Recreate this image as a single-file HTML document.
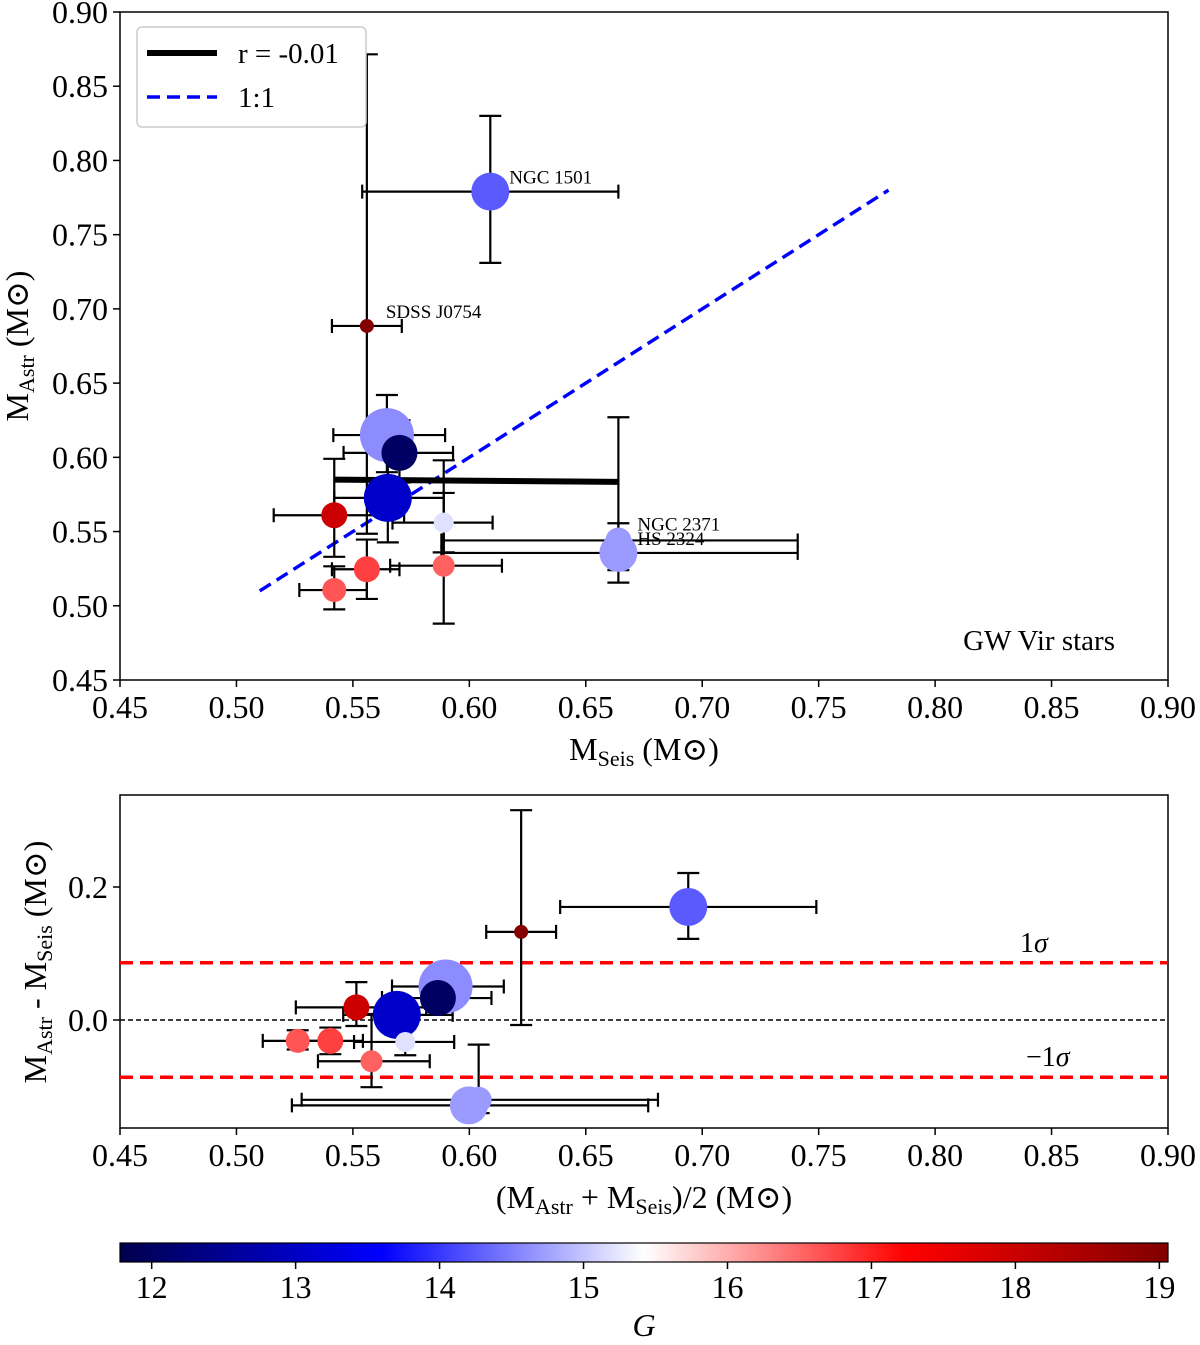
<!DOCTYPE html>
<html><head><meta charset="utf-8"><style>
body{margin:0;background:#fff}
svg text{font-family:"Liberation Serif","DejaVu Serif",serif;fill:#000}
</style></head><body>
<svg id="fig" width="1200" height="1340" xmlns="http://www.w3.org/2000/svg">
<defs><linearGradient id="cmap" x1="0" x2="1" y1="0" y2="0">
<stop offset="0" stop-color="#00004d"/><stop offset="0.25" stop-color="#0000ff"/><stop offset="0.5" stop-color="#ffffff"/><stop offset="0.75" stop-color="#ff0000"/><stop offset="1" stop-color="#800000"/></linearGradient></defs>
<g id="topPanel"></g>
<g id="botPanel"></g>
<g id="cbarPanel"></g>
</svg>
<script>
const starNames = ["NGC 1501","SDSS J0754","star-3","star-4","star-5","star-6","star-7","NGC 2371","HS 2324","star-10","star-11","star-12"];
const mSeis = [0.609,0.556,0.5646,0.570,0.565,0.542,0.589,0.664,0.664,0.556,0.589,0.542];
const mAstr = [0.779,0.6885,0.615,0.603,0.5727,0.561,0.556,0.544,0.5356,0.5246,0.527,0.5106];
const xErrLo = [0.055,0.015,0.023,0.024,0.023,0.026,0.022,0.076,0.076,0.015,0.023,0.015];
const xErrHi = [0.055,0.015,0.025,0.023,0.024,0.030,0.021,0.077,0.077,0.014,0.025,0.014];
const yErrLo = [0.048,0.14,0.025,0.02,0.03,0.028,0.02,0.02,0.02,0.02,0.039,0.013];
const yErrHi = [0.051,0.183,0.027,0.022,0.03,0.038,0.02,0.083,0.02,0.02,0.071,0.016];
const gMag = [14.24,19.0,14.6,12.0,13.07,17.97,15.2,14.7,14.7,16.78,16.55,16.63];
const sizes = [19,7,27,18,24,13,10,13,19,13,11,12];
const starLabels = {0:"NGC 1501",1:"SDSS J0754",7:"NGC 2371",8:"HS 2324"};
const fitX = [0.542,0.664];
const fitY = [0.585,0.5835];
const oneToOne = [0.51,0.78];
const sigma = 0.086;
const xTicks = [0.45,0.50,0.55,0.60,0.65,0.70,0.75,0.80,0.85,0.90];
const yTicksTop = [0.45,0.50,0.55,0.60,0.65,0.70,0.75,0.80,0.85,0.90];
const yTicksBot = [0.0,0.2];
const cTicks = [12,13,14,15,16,17,18,19];
const gMin = 11.78, gMax = 19.06;

const NS="http://www.w3.org/2000/svg";
function mk(parent,tag,attrs,text){const e=document.createElementNS(NS,tag);for(const k in attrs)e.setAttribute(k,attrs[k]);if(text!==undefined)e.textContent=text;parent.appendChild(e);return e;}
function cmap(g){let t=(g-gMin)/(gMax-gMin);t=Math.max(0,Math.min(1,t));
 const st=[[0,0,0,77],[0.25,0,0,255],[0.5,255,255,255],[0.75,255,0,0],[1,128,0,0]];
 for(let i=0;i<4;i++){if(t<=st[i+1][0]){const f=(t-st[i][0])/(st[i+1][0]-st[i][0]);
 return `rgb(${[1,2,3].map(j=>Math.round(st[i][j]+f*(st[i+1][j]-st[i][j]))).join(',')})`;}}return "#800000";}
const L=120,R=1168;
const xs=v=>L+(v-0.45)/0.45*(R-L);
const ysT=v=>680-(v-0.45)/0.45*668;
const ysB=v=>1020-v*665;
const topG=document.getElementById('topPanel'),botG=document.getElementById('botPanel'),cbG=document.getElementById('cbarPanel');

function errbar(g,x,y,x1,x2,y1,y2){
 const a={stroke:'#000','stroke-width':2.2,fill:'none'};
 let e=mk(g,'path',Object.assign({d:`M${x1} ${y}H${x2}M${x1} ${y-7}V${y+7}M${x2} ${y-7}V${y+7}M${x} ${y1}V${y2}M${x-11} ${y1}H${x+11}M${x-11} ${y2}H${x+11}`},a));
 
 
}
function axes(g,y0,y1,yt,ysf,ylabFmt){
 let fr=mk(g,'rect',{x:L,y:y0,width:R-L,height:y1-y0,fill:'none',stroke:'#000','stroke-width':1.5});
 
 
 xTicks.forEach(v=>{const x=xs(v);mk(g,'line',{x1:x,x2:x,y1:y1,y2:y1+7,stroke:'#000','stroke-width':1.5});
  let t=mk(g,'text',{x:x,y:y1+38,'font-size':32,'text-anchor':'middle'},v.toFixed(2));
  
  });
 yt.forEach(v=>{const y=ysf(v);mk(g,'line',{x1:L-7,x2:L,y1:y,y2:y,stroke:'#000','stroke-width':1.5});
  let t=mk(g,'text',{x:L-12,y:y+11,'font-size':32,'text-anchor':'end'},ylabFmt(v));
  
  });
}
// TOP
axes(topG,12,680,yTicksTop,ysT,v=>v.toFixed(2));
let oo=mk(topG,'line',{x1:xs(oneToOne[0]),y1:ysT(oneToOne[0]),x2:xs(oneToOne[1]),y2:ysT(oneToOne[1]),stroke:'#0000ff','stroke-width':3.5,'stroke-dasharray':'13 7'});


for(let i=0;i<starNames.length;i++){
 const x=xs(mSeis[i]),y=ysT(mAstr[i]);
 errbar(topG,x,y,xs(mSeis[i]-xErrLo[i]),xs(mSeis[i]+xErrHi[i]),ysT(mAstr[i]+yErrHi[i]),ysT(mAstr[i]-yErrLo[i]));
}
let fl=mk(topG,'line',{x1:xs(fitX[0]),y1:ysT(fitY[0]),x2:xs(fitX[1]),y2:ysT(fitY[1]),stroke:'#000','stroke-width':6});


for(let i=0;i<starNames.length;i++){
 let c=mk(topG,'circle',{cx:xs(mSeis[i]),cy:ysT(mAstr[i]),r:sizes[i],fill:cmap(gMag[i])});
 
 
 if(starLabels[i]){let t=mk(topG,'text',{x:xs(mSeis[i])+19,y:ysT(mAstr[i])+(i==7?-10:-8),'font-size':19},starLabels[i]);
  
  }
}
let lg=mk(topG,'g',{});


mk(lg,'rect',{x:137,y:27,width:229,height:100,rx:5,fill:'#fff',stroke:'#ccc','stroke-width':1.5});
mk(lg,'line',{x1:147,x2:217,y1:53,y2:53,stroke:'#000','stroke-width':6});
mk(lg,'text',{x:238,y:63,'font-size':29},'r = -0.01');
mk(lg,'line',{x1:147,x2:217,y1:97,y2:97,stroke:'#0000ff','stroke-width':3.5,'stroke-dasharray':'13 7'});
mk(lg,'text',{x:238,y:107,'font-size':29},'1:1');
let gw=mk(topG,'text',{x:1115,y:650,'font-size':29,'text-anchor':'end'},'GW Vir stars');


let xl=mk(topG,'text',{x:644,y:760,'font-size':32,'text-anchor':'middle'});
xl.innerHTML='M<tspan font-size="22" dy="6">Seis</tspan><tspan dy="-6"> (M⊙)</tspan>';


let yl=mk(topG,'text',{transform:'translate(28,346) rotate(-90)','font-size':32,'text-anchor':'middle'});
yl.innerHTML='M<tspan font-size="22" dy="6">Astr</tspan><tspan dy="-6"> (M⊙)</tspan>';



// BOTTOM
axes(botG,795,1128,yTicksBot,ysB,v=>v.toFixed(1));
let z=mk(botG,'line',{x1:L,x2:R,y1:ysB(0),y2:ysB(0),stroke:'#000','stroke-width':1.5,'stroke-dasharray':'5 3'});


[sigma,-sigma].forEach((s,k)=>{let l=mk(botG,'line',{x1:L,x2:R,y1:ysB(s),y2:ysB(s),stroke:'#ff0000','stroke-width':3.5,'stroke-dasharray':'13 7'});
 
 });
let s1=mk(botG,'text',{x:1020,y:952,'font-size':28});s1.innerHTML='1<tspan font-style="italic">σ</tspan>';


let s2=mk(botG,'text',{x:1026,y:1066,'font-size':28});s2.innerHTML='−1<tspan font-style="italic">σ</tspan>';


for(let i=0;i<starNames.length;i++){
 const m=(mSeis[i]+mAstr[i])/2,d=mAstr[i]-mSeis[i];
 errbar(botG,xs(m),ysB(d),xs(m-xErrLo[i]),xs(m+xErrHi[i]),ysB(d+yErrHi[i]),ysB(d-yErrLo[i]));
}
for(let i=0;i<starNames.length;i++){
 const m=(mSeis[i]+mAstr[i])/2,d=mAstr[i]-mSeis[i];
 let c=mk(botG,'circle',{cx:xs(m),cy:ysB(d),r:sizes[i],fill:cmap(gMag[i])});
 
 
}
let bx=mk(botG,'text',{x:644,y:1208,'font-size':32,'text-anchor':'middle'});
bx.innerHTML='(M<tspan font-size="22" dy="6">Astr</tspan><tspan dy="-6"> + M</tspan><tspan font-size="22" dy="6">Seis</tspan><tspan dy="-6">)/2 (M⊙)</tspan>';


let by=mk(botG,'text',{transform:'translate(46,962) rotate(-90)','font-size':32,'text-anchor':'middle'});
by.innerHTML='M<tspan font-size="22" dy="6">Astr</tspan><tspan dy="-6"> - M</tspan><tspan font-size="22" dy="6">Seis</tspan><tspan dy="-6"> (M⊙)</tspan>';



// COLORBAR
mk(cbG,'rect',{x:L,y:1243,width:R-L,height:19,fill:'url(#cmap)',stroke:'#000','stroke-width':1.2});
cTicks.forEach(v=>{const x=L+(v-gMin)/(gMax-gMin)*(R-L);
 mk(cbG,'line',{x1:x,x2:x,y1:1262,y2:1269,stroke:'#000','stroke-width':1.5});
 let t=mk(cbG,'text',{x:x,y:1298,'font-size':32,'text-anchor':'middle'},String(v));
 
 });
let cl=mk(cbG,'text',{x:644,y:1336,'font-size':32,'text-anchor':'middle','font-style':'italic'},'G');


</script>
</body></html>
